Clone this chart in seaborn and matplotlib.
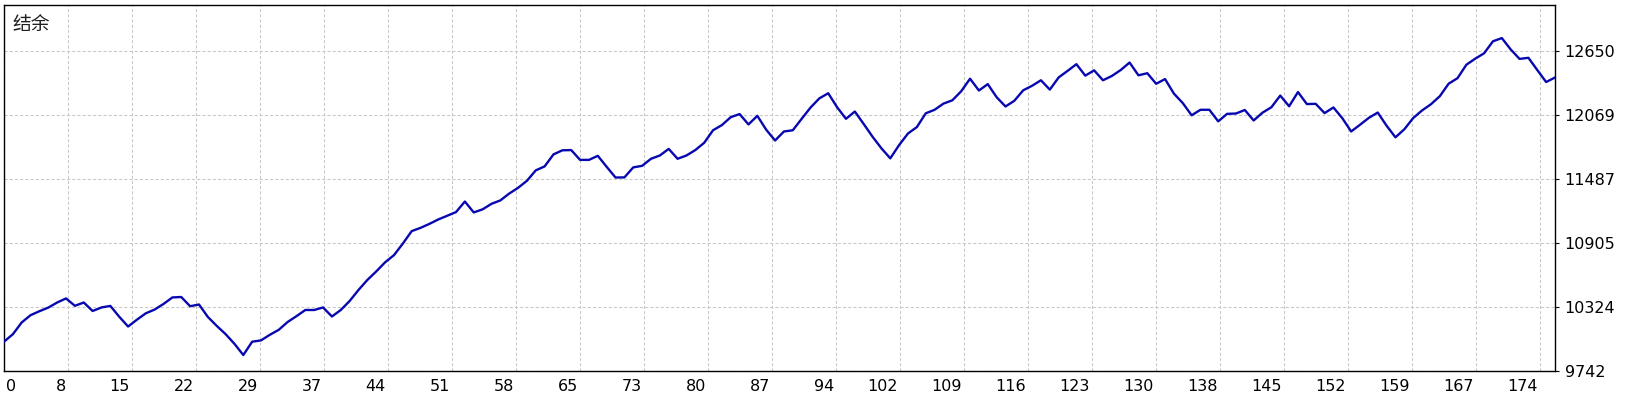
import numpy as np
import pandas as pd
import matplotlib
matplotlib.use("Agg")
import matplotlib.pyplot as plt
import matplotlib.transforms as mtransforms
import seaborn as sns

# Balance curve (one value per trade)
balance = [
    10008, 10076, 10183, 10249, 10285, 10318, 10364, 10401, 10334, 10364,
    10287, 10319, 10333, 10235, 10146, 10208, 10266, 10300, 10351, 10410,
    10414, 10330, 10346, 10233, 10152, 10077, 9989, 9887, 10008, 10020,
    10071, 10116, 10187, 10240, 10296, 10296, 10319, 10237, 10296, 10378,
    10478, 10569, 10646, 10729, 10794, 10899, 11012, 11042, 11078, 11118,
    11152, 11185, 11281, 11182, 11210, 11260, 11291, 11353, 11405, 11469,
    11564, 11600, 11709, 11746, 11748, 11659, 11659, 11696, 11596, 11499,
    11500, 11591, 11605, 11669, 11699, 11759, 11669, 11699, 11748, 11814,
    11928, 11975, 12047, 12075, 11981, 12059, 11933, 11835, 11917, 11928,
    12032, 12134, 12218, 12264, 12137, 12032, 12098, 11985, 11869, 11764,
    11673, 11794, 11899, 11957, 12082, 12114, 12170, 12200, 12282, 12396,
    12289, 12347, 12228, 12144, 12196, 12291, 12332, 12382, 12297, 12408,
    12467, 12528, 12424, 12472, 12382, 12421, 12475, 12543, 12427, 12446,
    12350, 12393, 12261, 12175, 12064, 12114, 12114, 12009, 12077, 12080,
    12112, 12017, 12088, 12137, 12243, 12146, 12275, 12166, 12168, 12084,
    12135, 12038, 11917, 11978, 12041, 12089, 11969, 11864, 11937, 12039,
    12108, 12164, 12237, 12351, 12401, 12523, 12578, 12627, 12736, 12765,
    12662, 12576, 12586, 12475, 12366, 12407,
]

# axis labels as printed on the chart
x_labels = ["0", "8", "15", "22", "29", "37", "44", "51", "58", "65", "73", "80",
            "87", "94", "102", "109", "116", "123", "130", "138", "145", "152",
            "159", "167", "174"]
y_ticks = [9742, 10324, 10905, 11487, 12069, 12650]

df = pd.DataFrame({"trade": np.arange(len(balance)), "balance": balance})

sns.set_style("white")
plt.rcParams["font.family"] = ["DejaVu Sans"]

fig = plt.figure(figsize=(16.4, 4.0), dpi=100)
ax = fig.add_axes([4 / 1640, 29 / 400, 1551 / 1640, 366.5 / 400])

sns.lineplot(data=df, x="trade", y="balance", ax=ax, color="#0808B0",
             linewidth=1.7, zorder=3)

ax.set_xlim(0, len(balance) - 1)
ax.set_ylim(9742, 13070)

# grid every 64 px, labels show the trade number there
step = (len(balance) - 1) * 64 / 1551
ax.set_xticks([k * step for k in range(len(x_labels))])
ax.set_xticklabels(x_labels)
ax.set_yticks(y_ticks)
ax.set_yticklabels([str(v) for v in y_ticks])

ax.yaxis.tick_right()
ax.tick_params(axis="both", direction="out", length=3, width=0.8,
               color="black", labelsize=11.5, labelcolor="black")
ax.tick_params(axis="x", pad=3)
ax.tick_params(axis="y", pad=4)

# MT4 style: x labels sit left of their gridline
shift_left = mtransforms.ScaledTranslation(-2 / 100, 0, fig.dpi_scale_trans)
shift_right = mtransforms.ScaledTranslation(2 / 100, 0, fig.dpi_scale_trans)
for i, lab in enumerate(ax.get_xticklabels()):
    if i == 0:
        lab.set_ha("left")
        lab.set_transform(lab.get_transform() + shift_right)
    else:
        lab.set_ha("right")
        lab.set_transform(lab.get_transform() + shift_left)

ax.grid(True, color="#C8C8C8", linestyle=(0, (3, 2)), linewidth=0.75)
for s in ax.spines.values():
    s.set_color("black")
    s.set_linewidth(1.0)
ax.set_xlabel("")
ax.set_ylabel("")

ax.text(8 / 1551, 1 - 9 / 366.5, "结余", transform=ax.transAxes,
        ha="left", va="top", fontsize=13.5, color="#202020",
        family=["Noto Sans CJK SC", "DejaVu Sans"])

fig.savefig("out.png", dpi=100, facecolor="white")
